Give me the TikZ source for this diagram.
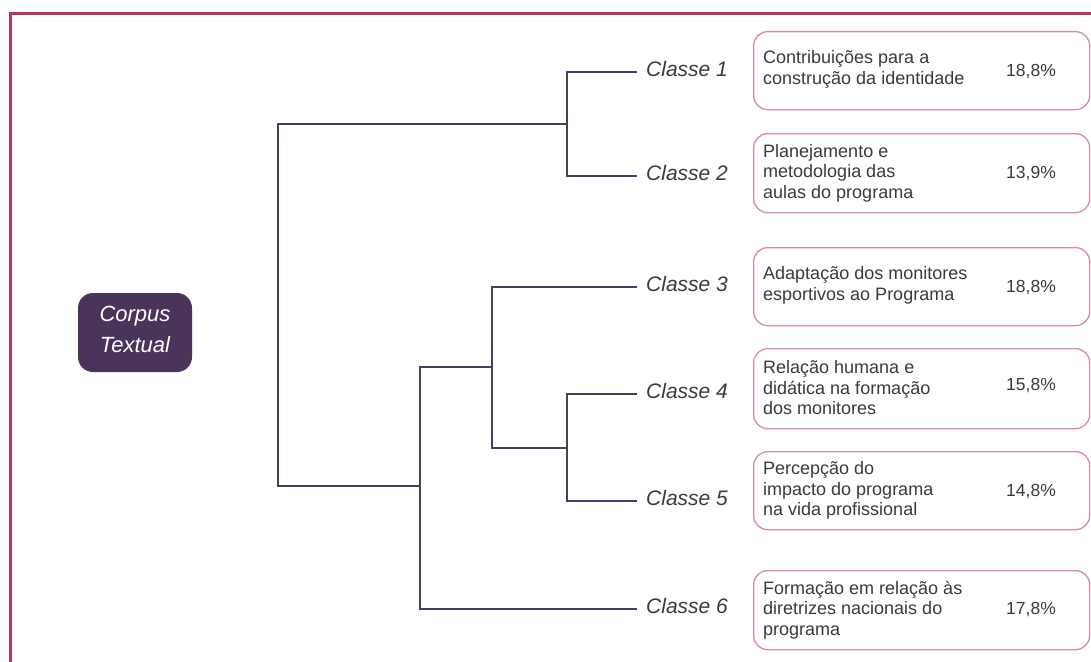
\documentclass[tikz,border=0pt]{standalone}
\usepackage{fontspec}
\setmainfont{Liberation Sans}
\definecolor{framec}{HTML}{B03A63}
\definecolor{linec}{HTML}{4A3A65}
\definecolor{corpusc}{HTML}{4A3459}
\definecolor{boxc}{HTML}{D98AA6}
\definecolor{txtc}{HTML}{3A3A3A}
\tikzset{
  dend/.style={draw=linec, line width=1.5pt},
  classlbl/.style={anchor=west, inner sep=0pt, text=txtc, font=\fontsize{21}{24}\selectfont\itshape},
  catbox/.style={draw=boxc, line width=1.3pt, rounded corners=14pt, anchor=north west, minimum width=336pt, inner sep=0pt},
  cattxt/.style={anchor=west, inner sep=0pt, align=left, text=txtc, font=\fontsize{18}{20.6}\selectfont},
  pct/.style={anchor=center, inner sep=0pt, text=txtc, font=\fontsize{17.5}{20}\selectfont},
}
\begin{document}
\begin{tikzpicture}[x=1pt,y=1pt]
\useasboundingbox (0,0) rectangle (1091,-661);
% frame
\draw[framec, line width=3pt] (10,-663) -- (10,-14) -- (1093,-14);
% corpus
\node[fill=corpusc, rounded corners=15pt, minimum width=114pt, minimum height=79pt, inner sep=0pt] (corpus) at (135,-332.5) {};
\node[inner sep=0pt, align=center, text=white, font=\fontsize{22}{31}\selectfont\itshape] (corpustxt) at ([yshift=3pt]corpus.center) {Corpus\\Textual};
% leaf ends
\coordinate (e1) at (637,-72);
\coordinate (e2) at (637,-176);
\coordinate (e3) at (637,-287);
\coordinate (e4) at (637,-394);
\coordinate (e5) at (637,-501);
\coordinate (e6) at (637,-609);
% junctions
\coordinate (j12) at (567,-124);
\coordinate (j45) at (567,-448);
\coordinate (j345) at (492,-367);
\coordinate (j3456) at (420,-486);
\coordinate (root) at (278,-300);
\draw[dend] (e1) -| (j12) |- (e2);
\draw[dend] (e4) -| (j45) |- (e5);
\draw[dend] (e3) -| (j345) |- (j45);
\draw[dend] (j345) -| (j3456) |- (e6);
\draw[dend] (j12) -| (root) |- (j3456);
% class labels
\node[classlbl] (c1) at (646,-69) {Classe 1};
\node[classlbl] (c2) at (646,-173) {Classe 2};
\node[classlbl] (c3) at (646,-284) {Classe 3};
\node[classlbl] (c4) at (646,-391) {Classe 4};
\node[classlbl] (c5) at (646,-498) {Classe 5};
\node[classlbl] (c6) at (646,-606) {Classe 6};
% boxes
\node[catbox, minimum height=78pt] (b1) at (753,-31) {};
\node[catbox, minimum height=79pt] (b2) at (753,-133) {};
\node[catbox, minimum height=78pt] (b3) at (753,-247) {};
\node[catbox, minimum height=80pt] (b4) at (753,-348) {};
\node[catbox, minimum height=78pt] (b5) at (753,-451) {};
\node[catbox, minimum height=79pt] (b6) at (753,-570) {};
% box texts
\node[cattxt] (t1) at ([xshift=10pt,yshift=1.5pt]b1.west) {Contribuições para a\\construção da identidade};
\node[cattxt] (t2) at ([xshift=10pt,yshift=0pt]b2.west) {Planejamento e\\metodologia das\\aulas do programa};
\node[cattxt] (t3) at ([xshift=10pt,yshift=1.5pt]b3.west) {Adaptação dos monitores\\esportivos ao Programa};
\node[cattxt] (t4) at ([xshift=10pt,yshift=1pt]b4.west) {Relação humana e\\didática na formação\\dos monitores};
\node[cattxt] (t5) at ([xshift=10pt,yshift=0pt]b5.west) {Percepção do\\impacto do programa\\na vida profissional};
\node[cattxt] (t6) at ([xshift=10pt,yshift=0pt]b6.west) {Formação em relação às\\diretrizes nacionais do\\programa};
% percentages
\node[pct] (p1) at (1031,-72) {18,8\%};
\node[pct] (p2) at (1031,-174) {13,9\%};
\node[pct] (p3) at (1031,-288) {18,8\%};
\node[pct] (p4) at (1031,-386) {15,8\%};
\node[pct] (p5) at (1031,-492) {14,8\%};
\node[pct] (p6) at (1031,-610) {17,8\%};
\end{tikzpicture}
\end{document}
